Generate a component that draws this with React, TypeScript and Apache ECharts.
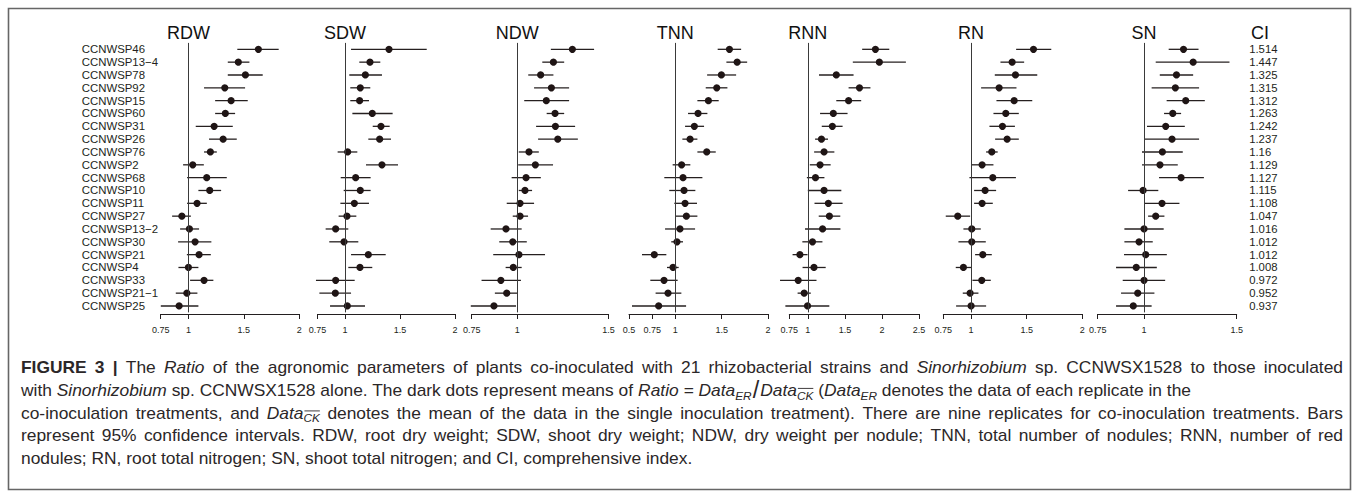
import React, { useEffect, useRef } from 'react';
import * as echarts from 'echarts';

// ---------------- DATA ----------------
const strains = [
  'CCNWSP46', 'CCNWSP13−4', 'CCNWSP78', 'CCNWSP92', 'CCNWSP15', 'CCNWSP60', 'CCNWSP31',
  'CCNWSP26', 'CCNWSP76', 'CCNWSP2', 'CCNWSP68', 'CCNWSP10', 'CCNWSP11', 'CCNWSP27',
  'CCNWSP13−2', 'CCNWSP30', 'CCNWSP21', 'CCNWSP4', 'CCNWSP33', 'CCNWSP21−1', 'CCNWSP25',
];
const ciValues = [
  '1.514', '1.447', '1.325', '1.315', '1.312', '1.263', '1.242', '1.237', '1.16', '1.129', '1.127',
  '1.115', '1.108', '1.047', '1.016', '1.012', '1.012', '1.008', '0.972', '0.952', '0.937',
];
const panelNames = ['RDW', 'SDW', 'NDW', 'TNN', 'RNN', 'RN', 'SN'];
const panelMin = [0.75, 0.75, 0.75, 0.5, 0.75, 0.75, 0.75];
const panelMax = [2, 2, 1.5, 2, 2.5, 2, 1.5];
const panelTicks = [
  [0.75, 1, 1.5, 2],
  [0.75, 1, 1.5, 2],
  [0.75, 1, 1.5],
  [0.5, 0.75, 1, 1.5, 2],
  [0.75, 1, 1.5, 2, 2.5],
  [0.75, 1, 1.5, 2],
  [0.75, 1, 1.5],
];

const rdwMean = [1.631, 1.450, 1.514, 1.328, 1.385, 1.333, 1.232, 1.313, 1.198, 1.039, 1.165, 1.192, 1.078, 0.941, 1.009, 1.060, 1.096, 1.000, 1.141, 0.986, 0.916];
const rdwLow = [1.441, 1.355, 1.355, 1.141, 1.241, 1.241, 1.066, 1.186, 1.141, 0.952, 0.988, 1.090, 0.988, 0.853, 0.925, 0.907, 0.986, 0.910, 1.015, 0.886, 0.751];
const rdwHigh = [1.814, 1.550, 1.670, 1.511, 1.535, 1.421, 1.400, 1.436, 1.256, 1.139, 1.346, 1.295, 1.166, 1.022, 1.096, 1.207, 1.202, 1.090, 1.225, 1.081, 1.090];

const sdwMean = [1.400, 1.227, 1.185, 1.139, 1.133, 1.248, 1.327, 1.315, 1.024, 1.336, 1.097, 1.139, 1.085, 1.018, 0.915, 0.991, 1.212, 1.136, 0.915, 0.912, 1.021];
const sdwLow = [1.055, 1.130, 1.039, 1.048, 1.048, 1.067, 1.252, 1.212, 0.933, 1.191, 0.961, 0.988, 0.958, 0.942, 0.824, 0.857, 1.055, 1.030, 0.736, 0.767, 0.864];
const sdwHigh = [1.743, 1.321, 1.336, 1.230, 1.218, 1.433, 1.406, 1.418, 1.112, 1.482, 1.233, 1.233, 1.218, 1.103, 1.030, 1.121, 1.370, 1.248, 1.088, 1.055, 1.182];

const ndwMean = [1.302, 1.198, 1.128, 1.187, 1.159, 1.207, 1.209, 1.222, 1.064, 1.099, 1.048, 1.042, 1.015, 1.015, 0.938, 0.975, 1.009, 0.978, 0.910, 0.942, 0.872];
const ndwLow = [1.184, 1.137, 1.060, 1.092, 1.038, 1.161, 1.103, 1.114, 1.008, 1.005, 0.969, 1.008, 0.942, 0.975, 0.854, 0.901, 0.868, 0.936, 0.804, 0.877, 0.745];
const ndwHigh = [1.421, 1.257, 1.198, 1.284, 1.284, 1.257, 1.317, 1.332, 1.118, 1.196, 1.129, 1.081, 1.092, 1.059, 1.024, 1.052, 1.152, 1.024, 1.020, 1.002, 0.993];

const tnnMean = [1.584, 1.667, 1.497, 1.447, 1.357, 1.245, 1.205, 1.159, 1.339, 1.068, 1.083, 1.094, 1.105, 1.119, 1.050, 1.018, 0.773, 0.975, 0.878, 0.921, 0.820];
const tnnLow = [1.457, 1.551, 1.343, 1.328, 1.238, 1.137, 1.105, 1.076, 1.238, 0.971, 0.881, 0.935, 0.989, 1.007, 0.889, 0.956, 0.640, 0.910, 0.730, 0.787, 0.532];
const tnnHigh = [1.710, 1.775, 1.656, 1.562, 1.468, 1.346, 1.310, 1.238, 1.436, 1.162, 1.292, 1.216, 1.234, 1.238, 1.213, 1.083, 0.903, 1.036, 1.025, 1.065, 1.116];

const rnnMean = [1.912, 1.965, 1.384, 1.697, 1.550, 1.344, 1.331, 1.184, 1.219, 1.165, 1.103, 1.219, 1.277, 1.291, 1.199, 1.063, 0.893, 1.083, 0.870, 0.951, 0.996];
const rnnLow = [1.733, 1.607, 1.151, 1.550, 1.384, 1.165, 1.188, 1.098, 1.085, 1.027, 0.987, 1.000, 1.090, 1.147, 0.962, 0.926, 0.794, 0.929, 0.625, 0.862, 0.697];
const rnnHigh = [2.099, 2.323, 1.617, 1.845, 1.720, 1.536, 1.469, 1.272, 1.358, 1.308, 1.224, 1.452, 1.469, 1.438, 1.440, 1.197, 0.996, 1.241, 1.117, 1.040, 1.290];

const rnMean = [1.561, 1.369, 1.399, 1.252, 1.387, 1.312, 1.282, 1.324, 1.186, 1.099, 1.195, 1.126, 1.099, 0.880, 1.006, 1.006, 1.105, 0.931, 1.096, 0.991, 1.000];
const rnLow = [1.405, 1.264, 1.213, 1.090, 1.228, 1.201, 1.165, 1.216, 1.135, 1.000, 0.985, 1.027, 1.027, 0.772, 0.931, 0.886, 1.036, 0.862, 1.012, 0.925, 0.865];
const rnHigh = [1.721, 1.477, 1.595, 1.408, 1.550, 1.429, 1.394, 1.429, 1.239, 1.201, 1.403, 1.225, 1.195, 0.991, 1.087, 1.132, 1.186, 1.000, 1.177, 1.066, 1.135];

const snMean = [1.213, 1.265, 1.175, 1.169, 1.225, 1.155, 1.117, 1.151, 1.099, 1.086, 1.200, 0.995, 1.097, 1.063, 1.000, 0.973, 1.009, 0.958, 1.000, 0.966, 0.942];
const snLow = [1.133, 1.063, 1.085, 1.041, 1.122, 1.108, 1.016, 1.002, 0.989, 0.989, 1.081, 0.914, 1.002, 1.022, 0.894, 0.894, 0.892, 0.849, 0.885, 0.876, 0.849];
const snHigh = [1.294, 1.461, 1.265, 1.297, 1.328, 1.200, 1.220, 1.297, 1.209, 1.182, 1.323, 1.077, 1.191, 1.110, 1.106, 1.047, 1.123, 1.069, 1.114, 1.056, 1.041];

const panelMeans = [rdwMean, sdwMean, ndwMean, tnnMean, rnnMean, rnMean, snMean];
const panelLows = [rdwLow, sdwLow, ndwLow, tnnLow, rnnLow, rnLow, snLow];
const panelHighs = [rdwHigh, sdwHigh, ndwHigh, tnnHigh, rnnHigh, rnHigh, snHigh];

type Seg = { t: string; k: 'n' | 'i' | 'b' | 's' | 'so' | 'sl' };
const captionLines: Seg[][] = [
  [
    { t: 'FIGURE 3 |', k: 'b' },
    { t: ' The ', k: 'n' },
    { t: 'Ratio', k: 'i' },
    { t: ' of the agronomic parameters of plants co-inoculated with 21 rhizobacterial strains and ', k: 'n' },
    { t: 'Sinorhizobium', k: 'i' },
    { t: ' sp. CCNWSX1528 to those inoculated', k: 'n' },
  ],
  [
    { t: 'with ', k: 'n' },
    { t: 'Sinorhizobium', k: 'i' },
    { t: ' sp. CCNWSX1528 alone. The dark dots represent means of ', k: 'n' },
    { t: 'Ratio = Data', k: 'i' },
    { t: 'ER', k: 's' },
    { t: '/', k: 'sl' },
    { t: 'Data', k: 'i' },
    { t: 'CK', k: 'so' },
    { t: ' (', k: 'n' },
    { t: 'Data', k: 'i' },
    { t: 'ER', k: 's' },
    { t: ' denotes the data of each replicate in the', k: 'n' },
  ],
  [
    { t: 'co-inoculation treatments, and ', k: 'n' },
    { t: 'Data', k: 'i' },
    { t: 'CK', k: 'so' },
    { t: ' denotes the mean of the data in the single inoculation treatment). There are nine replicates for co-inoculation treatments. Bars', k: 'n' },
  ],
  [
    { t: 'represent 95% confidence intervals. RDW, root dry weight; SDW, shoot dry weight; NDW, dry weight per nodule; TNN, total number of nodules; RNN, number of red', k: 'n' },
  ],
  [
    { t: 'nodules; RN, root total nitrogen; SN, shoot total nitrogen; and CI, comprehensive index.', k: 'n' },
  ],
];
const captionJustify = [true, false, true, true, false];

// ---------------- LAYOUT / STYLE ----------------
const FONT = '"Liberation Sans", Arial, Helvetica, sans-serif';
const TEXT = '#231f20';
const CAPTION_COLOR = '#2b2728';
const panelLeft = [160.7, 317.5, 471.7, 629, 789.3, 943.3, 1097.7];
const panelWidth = [138.6, 137.5, 136.8, 139, 129.7, 139, 139];
const GRID_TOP = 42.9;
const GRID_HEIGHT = 269.5;
const captionY = [367, 390, 412.5, 435, 457.5];
const CAPTION_X = 21;
const CAPTION_RIGHT = 1343;

function buildCaption(): any[] {
  const canvas = document.createElement('canvas');
  const ctx = canvas.getContext('2d') as CanvasRenderingContext2D;
  const isItalic = (k: string) => k === 'i' || k === 's' || k === 'so';
  const segSize = (k: string, fs: number) => (k === 's' || k === 'so' ? fs * 0.68 : k === 'sl' ? fs * 1.35 : fs);
  const measT = (t: string, k: string, fs: number) => {
    ctx.font = `${isItalic(k) ? 'italic' : 'normal'} ${k === 'b' ? 'bold' : 'normal'} ${segSize(k, fs)}px ${FONT}`;
    return ctx.measureText(t).width;
  };
  const meas = (s: Seg, fs: number) => measT(s.t, s.k, fs) + (s.k === 'sl' ? fs * 0.12 : 0);
  const lineW = (line: Seg[], fs: number) => line.reduce((a, s) => a + meas(s, fs), 0);
  const base = 16;
  const w1 = lineW(captionLines[0], base);
  const fs = Math.max(13, Math.min(19, ((base * (CAPTION_RIGHT - CAPTION_X)) / w1) * 0.945));
  const els: any[] = [];
  const textEl = (t: string, k: string, x: number, y: number) => ({
    type: 'text',
    x,
    y,
    silent: true,
    style: {
      text: t,
      fontSize: segSize(k, fs),
      fontFamily: FONT,
      fontStyle: isItalic(k) ? 'italic' : 'normal',
      fontWeight: k === 'b' ? 'bold' : 'normal',
      fill: CAPTION_COLOR,
      align: 'left',
      verticalAlign: 'middle',
    },
  });
  captionLines.forEach((line, li) => {
    let x = CAPTION_X;
    const y = captionY[li];
    let extra = 0;
    if (captionJustify[li]) {
      const natural = lineW(line, fs);
      const nSpaces = line.reduce((a, s) => a + (s.k === 'n' || s.k === 'b' || s.k === 'i' ? s.t.split(' ').length - 1 : 0), 0);
      if (nSpaces > 0) extra = Math.max(0, (CAPTION_RIGHT - CAPTION_X - natural) / nSpaces);
    }
    line.forEach((s) => {
      const size = segSize(s.k, fs);
      const dy = s.k === 's' || s.k === 'so' ? fs * 0.33 : 0;
      if (s.k === 'n' || s.k === 'b' || s.k === 'i') {
        if (extra > 0) {
          const parts = s.t.split(' ');
          const spaceW = measT(' ', s.k, fs);
          parts.forEach((p, j) => {
            if (p.length) {
              els.push(textEl(p, s.k, x, y));
              x += measT(p, s.k, fs);
            }
            if (j < parts.length - 1) x += spaceW + extra;
          });
        } else {
          els.push(textEl(s.t, s.k, x, y));
          x += meas(s, fs);
        }
        return;
      }
      const w = meas(s, fs);
      els.push(textEl(s.t, s.k, s.k === 'sl' ? x + fs * 0.06 : x, y + dy));
      if (s.k === 'so') {
        const oy = y + dy - size * 0.62;
        els.push({
          type: 'line',
          silent: true,
          shape: { x1: x + 1, y1: oy, x2: x + w, y2: oy },
          style: { stroke: CAPTION_COLOR, lineWidth: 0.9 },
        });
      }
      x += w;
    });
  });
  return els;
}

export default function App() {
  const ref = useRef<HTMLDivElement>(null);
  useEffect(() => {
    if (!ref.current) return;
    const chart = echarts.init(ref.current, null, { renderer: 'svg' });

    const grids = panelNames.map((_, k) => ({
      left: panelLeft[k],
      top: GRID_TOP,
      width: panelWidth[k],
      height: GRID_HEIGHT,
      containLabel: false,
      outerBoundsMode: 'none',
    }));

    const xAxes = panelNames.map((_, k) => ({
      gridIndex: k,
      type: 'value',
      min: panelMin[k],
      max: panelMax[k],
      offset: 1.6,
      axisLine: { show: true, onZero: false, lineStyle: { color: TEXT, width: 1 } },
      axisTick: { show: true, length: 5, customValues: panelTicks[k], lineStyle: { color: TEXT, width: 1 } },
      axisLabel: {
        show: true,
        customValues: panelTicks[k],
        fontSize: 9,
        color: TEXT,
        fontFamily: FONT,
        margin: 11,
        hideOverlap: false,
        showMinLabel: true,
        showMaxLabel: true,
      },
      splitLine: { show: false },
    }));

    const yAxes: any[] = panelNames.map((_, k) => ({
      gridIndex: k,
      type: 'category',
      data: strains,
      inverse: true,
      boundaryGap: true,
      axisLine: { show: false },
      axisTick: { show: false },
      splitLine: { show: false },
      axisLabel: k === 0
        ? { show: true, align: 'left', margin: 79, fontSize: 11.4, color: TEXT, fontFamily: FONT, interval: 0 }
        : { show: false },
    }));
    yAxes.push({
      gridIndex: 6,
      type: 'category',
      position: 'right',
      data: ciValues,
      inverse: true,
      boundaryGap: true,
      axisLine: { show: false },
      axisTick: { show: false },
      splitLine: { show: false },
      axisLabel: { show: true, align: 'left', margin: 12.5, fontSize: 11.3, color: TEXT, fontFamily: FONT, interval: 0 },
    });

    const series = panelNames.map((name, k) => ({
      type: 'custom',
      name,
      xAxisIndex: k,
      yAxisIndex: k,
      encode: { x: [0, 2, 3], y: 1 },
      data: strains.map((_, i) => [panelMeans[k][i], i, panelLows[k][i], panelHighs[k][i]]),
      renderItem: (_params: any, api: any) => {
        const yi = api.value(1);
        const m = api.coord([api.value(0), yi]);
        const l = api.coord([api.value(2), yi]);
        const h = api.coord([api.value(3), yi]);
        return {
          type: 'group',
          children: [
            {
              type: 'line',
              shape: { x1: l[0], y1: m[1], x2: h[0], y2: m[1] },
              style: { stroke: '#262020', lineWidth: 1.3 },
            },
            {
              type: 'circle',
              shape: { cx: m[0], cy: m[1], r: 3.6 },
              style: { fill: '#1f1515' },
            },
          ],
        };
      },
      markLine: {
        silent: true,
        symbol: ['none', 'none'],
        label: { show: false },
        lineStyle: { color: '#3a3a3a', width: 1, type: 'solid' },
        data: [{ xAxis: 1 }],
      },
    }));

    chart.setOption({
      animation: false,
      backgroundColor: '#ffffff',
      textStyle: { fontFamily: FONT },
      grid: grids,
      xAxis: xAxes,
      yAxis: yAxes,
      series,
    });

    const headers = panelNames.map((name, k) => {
      const px = chart.convertToPixel({ xAxisIndex: k } as any, 1) as unknown as number;
      return {
        type: 'text',
        x: px,
        y: 33,
        silent: true,
        style: { text: name, fontSize: 18, fontFamily: FONT, fill: '#111', align: 'center', verticalAlign: 'middle' },
      };
    });

    chart.setOption({
      graphic: [
        {
          type: 'rect',
          silent: true,
          shape: { x: 8.5, y: 8.5, width: 1342, height: 481 },
          style: { fill: 'none', stroke: '#666', lineWidth: 1.6 },
        },
        ...headers,
        {
          type: 'text',
          x: 1251,
          y: 33,
          silent: true,
          style: { text: 'CI', fontSize: 18, fontFamily: FONT, fill: '#111', align: 'left', verticalAlign: 'middle' },
        },
        ...buildCaption(),
      ],
    });

    return () => chart.dispose();
  }, []);

  return (
    <div
      ref={ref}
      style={{ position: 'absolute', left: 0, top: 0, width: 1358, height: 498, background: '#fff' }}
    />
  );
}
